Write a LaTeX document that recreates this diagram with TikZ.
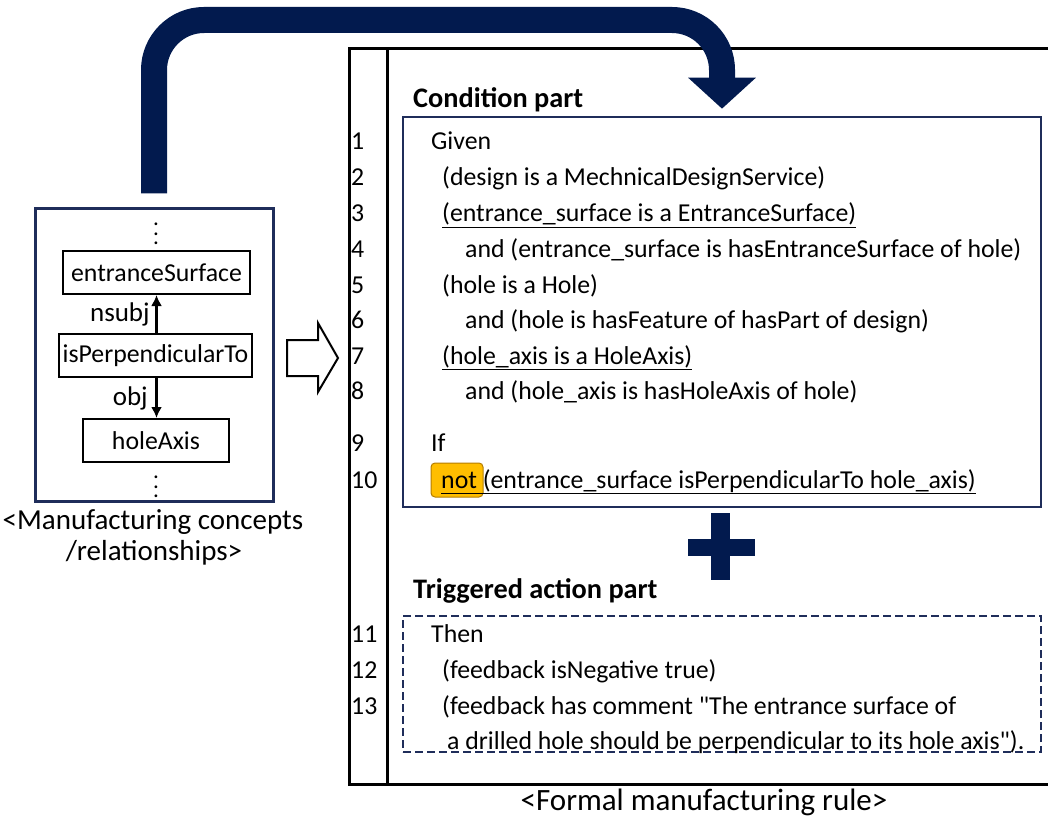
\documentclass[tikz,border=0pt]{standalone}
\usepackage{fontspec}
\setmainfont{Carlito}
\usepackage{graphicx}
\usepackage{tikz}
\usetikzlibrary{arrows.meta,positioning}
\definecolor{arrownavy}{RGB}{2,26,78}
\definecolor{boxnavy}{RGB}{31,45,90}
\definecolor{notfill}{RGB}{255,190,0}
\definecolor{notedge}{RGB}{180,125,0}
\newcommand{\rulesize}{\fontsize{25.8}{30}\selectfont}
\newcommand{\headsize}{\fontsize{28.3}{33}\selectfont}
\newcommand{\framew}{3pt}
\newcommand{\vdotsbig}{\scalebox{2.3}{$\vdots$}}

\begin{document}
\begin{tikzpicture}[x=1pt,y=-1pt]
    \useasboundingbox (0,0) rectangle (1048,818);
    \clip (0,0) rectangle (1048,818);
    \tikzset{
        concept/.style = {draw, line width=2pt, inner sep=0pt, minimum height=43pt, font=\rulesize},
        rel/.style = {line width=3pt, -{Latex[length=11pt,width=11pt]}},
        rowtxt/.style = {anchor=base west, inner sep=0pt, font=\rulesize},
        rownum/.style = {anchor=base west, inner sep=0pt, font=\rulesize},
        parthead/.style = {anchor=base west, inner sep=0pt, font=\headsize\bfseries},
        partbox/.style = {draw=boxnavy, line width=2.6pt, inner sep=0pt, minimum width=638pt}
    }

    % manufacturing concepts
    \node[draw=boxnavy, line width=\framew, minimum width=238pt, minimum height=292pt] (concepts) at (154,355) {};
    \node[inner sep=0pt] (dotsup) at (156,227) {\vdotsbig};
    \node[concept, minimum width=187pt] (entSurf) at (156.5,272.5) {entranceSurface};
    \node[concept, minimum width=193pt] (isPerp) at (155.5,355.5) {isPerpendicularTo};
    \node[concept, minimum width=146pt] (holeAx) at (156,440.5) {holeAxis};
    \node[inner sep=0pt] (dotsdown) at (156,480) {\vdotsbig};
    \draw[rel] (isPerp.north -| entSurf.south) -- (entSurf.south) node[midway, left=2pt, font=\fontsize{27}{30}\selectfont] (nsubj) {nsubj};
    \draw[rel] (isPerp.south -| entSurf.south) -- (holeAx.north -| entSurf.south) node[midway, left=4pt, font=\fontsize{27}{30}\selectfont] (obj) {obj};
    \node[font=\fontsize{29}{34}\selectfont] (capleft) at (153,522) {<Manufacturing concepts};
    \node[font=\fontsize{29}{34}\selectfont] (capleft2) at (154,553) {/relationships>};

    % hollow arrow
    \draw[line width=2pt, line join=miter] (287,340) -- (318,340) -- (318,323) -- (338,358) -- (318,392) -- (318,376) -- (287,376) -- cycle;

    % formal rule frame
    \draw[line width=\framew] (1060,49) -- (349,49) -- (349,784) -- (1060,784);
    \draw[line width=\framew] (387,49) -- (387,784);
    \node[font=\fontsize{31}{36}\selectfont] (capright) at (704,802) {<Formal manufacturing rule>};

    \node[partbox, minimum height=390pt] (cond) at (722,312) {};
    \node[partbox, dashed, dash pattern=on 8pt off 4pt, minimum height=136pt] (action) at (722,684) {};
    \node[parthead] (condhead) at (413,108) {Condition part};
    \node[parthead] (acthead) at (413,598) {Triggered action part};

    % big arrow
    \coordinate (arrstart) at ([yshift=14pt]concepts.north);
    \coordinate (arrend) at ([yshift=7pt]cond.north);
    \draw[arrownavy, line width=26pt, rounded corners=50pt, -{Triangle[length=31pt,width=66pt]}]
        (arrstart) -- (arrstart |- 0,20) -- (arrend |- 0,20) -- (arrend);

    % plus
    \fill[arrownavy] (711,513) rectangle (730,580);
    \fill[arrownavy] (688,539) rectangle (755,556);

    % line numbers
    \node[rownum] (n1) at (351,150) {1};
    \node[rownum] (n2) at (351,186) {2};
    \node[rownum] (n3) at (351,222) {3};
    \node[rownum] (n4) at (351,257) {4};
    \node[rownum] (n5) at (351,293) {5};
    \node[rownum] (n6) at (351,328) {6};
    \node[rownum] (n7) at (351,364) {7};
    \node[rownum] (n8) at (351,399) {8};
    \node[rownum] (n9) at (351,451) {9};
    \node[rownum] (n10) at (351,488) {10};
    \node[rownum] (n11) at (351,642) {11};
    \node[rownum] (n12) at (351,678) {12};
    \node[rownum] (n13) at (351,714) {13};

    % rule text
    \node[rowtxt] (l1) at (431,150) {Given};
    \node[rowtxt] (l2) at (442,186) {(design is a MechnicalDesignService)};
    \node[rowtxt] (l3) at (442,222) {\underline{(entrance\_surface is a EntranceSurface)}};
    \node[rowtxt] (l4) at (465,257) {and (entrance\_surface is hasEntranceSurface of hole)};
    \node[rowtxt] (l5) at (442,293) {(hole is a Hole)};
    \node[rowtxt] (l6) at (465,328) {and (hole is hasFeature of hasPart of design)};
    \node[rowtxt] (l7) at (442,364) {\underline{(hole\_axis is a HoleAxis)}};
    \node[rowtxt] (l8) at (465,399) {and (hole\_axis is hasHoleAxis of hole)};
    \node[rowtxt] (l9) at (431,451) {If};
    \node[draw=notedge, fill=notfill, line width=1pt, rounded corners=4pt, minimum width=52pt, minimum height=34pt] (notbox) at (457,480) {};
    \node[rowtxt] (l10) at (441,488) {\underline{not (entrance\_surface isPerpendicularTo hole\_axis)}};
    \node[rowtxt] (l11) at (431,642) {Then};
    \node[rowtxt] (l12) at (442,678) {(feedback isNegative true)};
    \node[rowtxt] (l13) at (442,714) {(feedback has comment \textquotedbl The entrance surface of};
    \node[rowtxt] (l13b) at (447,749) {a drilled hole should be perpendicular to its hole axis\textquotedbl).};
\end{tikzpicture}
\end{document}
